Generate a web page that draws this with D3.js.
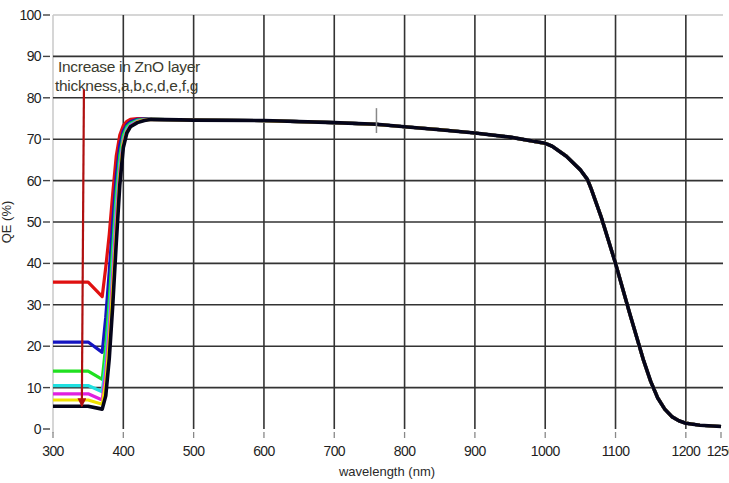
<!DOCTYPE html>
<html>
<head>
<meta charset="utf-8">
<script src="https://cdn.jsdelivr.net/npm/d3@7"></script>
<style>
  body { margin: 0; background: #fff; }
  svg { display: block; }
  .tick-label { font-family: "Liberation Sans Narrow", "Liberation Sans", Arial, sans-serif; font-size: 14px; fill: #1e1e1e; letter-spacing: -0.6px; }
  .axis-title { font-family: "Liberation Sans", Arial, sans-serif; font-size: 13px; fill: #2a2a2a; }
  .note { font-family: "Liberation Sans", Arial, sans-serif; font-size: 15.5px; fill: #3b3b2e; letter-spacing: -0.3px; }
</style>
</head>
<body>
<div id="chart"></div>
<script>
// Chart data
var wavelengths = [300, 350, 370, 375, 380, 385, 390, 395, 400, 405, 410, 420, 430,
    440, 500, 600, 700, 760, 800, 850, 900, 950, 1000, 1010, 1030, 1050, 1060, 1065, 1080,
    1100, 1120, 1140, 1150, 1160, 1170, 1180, 1190, 1200, 1220, 1250];

// common tail from 440 nm onwards
var tailQE = [74.8, 74.6, 74.5, 74.0, 73.6, 73.0, 72.3, 71.5, 70.5, 69.0, 68.3, 65.9, 62.6, 60.3, 58.2, 51.0,
    40.0, 28.0, 16.5, 11.5, 7.5, 4.8, 3.0, 2.0, 1.4, 0.9, 0.6];

var seriesNames = ["a", "b", "c", "d", "e", "f", "g"];
var seriesColors = ["#e01010", "#1414c0", "#20e020", "#20e0e0", "#e020e0", "#f0e000", "#05051a"];

var qeA = [35.5, 35.5, 32.0, 39.0, 47.0, 57.0, 66.0, 71.0, 73.3, 74.3, 74.8, 75.0, 75.0].concat(tailQE);
var qeB = [21.0, 21.0, 18.5, 27.0, 38.0, 50.0, 61.0, 68.5, 72.0, 73.5, 74.2, 74.8, 74.9].concat(tailQE);
var qeC = [14.0, 14.0, 12.0, 20.0, 31.0, 44.0, 57.0, 66.0, 71.0, 73.0, 73.8, 74.6, 74.8].concat(tailQE);
var qeD = [10.5, 10.5, 9.0, 16.0, 27.0, 40.0, 54.0, 64.0, 70.0, 72.5, 73.5, 74.4, 74.7].concat(tailQE);
var qeE = [8.5, 8.5, 7.0, 13.5, 24.0, 37.0, 51.0, 62.5, 69.5, 72.0, 73.3, 74.3, 74.7].concat(tailQE);
var qeF = [7.0, 7.0, 6.0, 11.0, 21.0, 34.0, 48.0, 61.0, 69.0, 71.8, 73.0, 74.2, 74.6].concat(tailQE);
var qeG = [5.5, 5.5, 4.8, 8.0, 17.0, 30.0, 45.0, 59.0, 68.0, 71.5, 73.0, 74.0, 74.5].concat(tailQE);
var allQE = [qeA, qeB, qeC, qeD, qeE, qeF, qeG];

var xTicks = [300, 400, 500, 600, 700, 800, 900, 1000, 1100, 1200, 1250];
var yTicks = [0, 10, 20, 30, 40, 50, 60, 70, 80, 90, 100];

var noteLines = ["Increase in ZnO layer", "thickness,a,b,c,d,e,f,g"];
var arrowFrom = [344, 82];
var arrowTo = [341, 5.5];
var cursorAt = 760;
var cursorRange = [71.5, 77.5];

// SVG setup
var svgWidth = 729;
var svgHeight = 483;
var margin = { top: 15, right: 8, bottom: 54, left: 53 };
var width = 721 - margin.left;
var height = 429 - margin.top;

var svg = d3.select("#chart")
    .append("svg")
    .attr("width", svgWidth)
    .attr("height", svgHeight);

var chartGroup = svg.append("g")
    .attr("transform", `translate(${margin.left}, ${margin.top})`);

var x = d3.scaleLinear().domain([300, 1250]).range([0, width]);
var y = d3.scaleLinear().domain([0, 100]).range([height, 0]);

// left axis line and top border (light gray)
chartGroup.append("line")
    .attr("x1", 0).attr("x2", 0)
    .attr("y1", y(100)).attr("y2", y(0) + 4)
    .attr("stroke", "#c8c8c8").attr("stroke-width", 1.5);
chartGroup.append("line")
    .attr("x1", 0).attr("x2", width + 2)
    .attr("y1", y(100)).attr("y2", y(100))
    .attr("stroke", "#c8c8c8").attr("stroke-width", 1.5);

// grid lines
chartGroup.append("g").selectAll("line")
    .data(yTicks.filter(d => d > 0 && d < 100))
    .enter()
    .append("line")
    .attr("x1", 0).attr("x2", width + 2)
    .attr("y1", d => y(d)).attr("y2", d => y(d))
    .attr("stroke", "#333").attr("stroke-width", 1.6);

chartGroup.append("g").selectAll("line")
    .data(xTicks.filter(d => d > 300 && d < 1250))
    .enter()
    .append("line")
    .attr("x1", d => x(d)).attr("x2", d => x(d))
    .attr("y1", y(100)).attr("y2", y(0))
    .attr("stroke", "#333").attr("stroke-width", 1.6);

// y ticks + labels
var yAxis = chartGroup.append("g");
yAxis.selectAll("line")
    .data(yTicks)
    .enter()
    .append("line")
    .attr("x1", -10).attr("x2", -3)
    .attr("y1", d => y(d)).attr("y2", d => y(d))
    .attr("stroke", "#444").attr("stroke-width", 1.4);
yAxis.selectAll("text")
    .data(yTicks)
    .enter()
    .append("text")
    .attr("class", "tick-label")
    .attr("x", -12)
    .attr("y", d => y(d) + 5)
    .attr("text-anchor", "end")
    .text(d => d);

// x ticks + labels
var xAxis = chartGroup.append("g").attr("transform", `translate(0, ${height})`);
xAxis.selectAll("line")
    .data(xTicks)
    .enter()
    .append("line")
    .attr("x1", d => x(d)).attr("x2", d => x(d))
    .attr("y1", 3).attr("y2", 9)
    .attr("stroke", "#888").attr("stroke-width", 1.3);
xAxis.selectAll("text")
    .data(xTicks)
    .enter()
    .append("text")
    .attr("class", "tick-label")
    .attr("x", d => x(d))
    .attr("y", 27)
    .attr("text-anchor", "middle")
    .text(d => d);

// axis titles
chartGroup.append("text")
    .attr("class", "axis-title")
    .attr("x", width / 2)
    .attr("y", height + 47)
    .attr("text-anchor", "middle")
    .text("wavelength (nm)");

chartGroup.append("text")
    .attr("class", "axis-title")
    .attr("transform", "rotate(-90)")
    .attr("x", -height / 2)
    .attr("y", -42)
    .attr("text-anchor", "middle")
    .text("QE (%)");

// QE curves
var line = d3.line()
    .x((d, i) => x(wavelengths[i]))
    .y(d => y(d))
    .curve(d3.curveLinear);

chartGroup.append("g").selectAll("path")
    .data(allQE)
    .enter()
    .append("path")
    .attr("d", d => line(d))
    .attr("fill", "none")
    .attr("stroke", (d, i) => seriesColors[i])
    .attr("stroke-width", (d, i) => i === 6 ? 3.6 : 3.2)
    .attr("stroke-linejoin", "round");

// cursor mark
chartGroup.append("line")
    .attr("x1", x(cursorAt)).attr("x2", x(cursorAt))
    .attr("y1", y(cursorRange[1])).attr("y2", y(cursorRange[0]))
    .attr("stroke", "#888").attr("stroke-width", 1.5);

// annotation
chartGroup.append("g").selectAll("text")
    .data(noteLines)
    .enter()
    .append("text")
    .attr("class", "note")
    .attr("x", (d, i) => i === 0 ? 5 : 2)
    .attr("y", (d, i) => 57 + i * 19)
    .text(d => d);

svg.append("defs").append("marker")
    .attr("id", "arrowhead")
    .attr("viewBox", "0 0 10 10")
    .attr("refX", 9).attr("refY", 5)
    .attr("markerWidth", 4).attr("markerHeight", 4)
    .attr("orient", "auto")
    .append("path")
    .attr("d", "M0,0 L10,5 L0,10 Z")
    .attr("fill", "#b01010");

chartGroup.append("line")
    .attr("x1", x(arrowFrom[0])).attr("y1", y(arrowFrom[1]))
    .attr("x2", x(arrowTo[0])).attr("y2", y(arrowTo[1]))
    .attr("stroke", "#b01010").attr("stroke-width", 2.2)
    .attr("marker-end", "url(#arrowhead)");
</script>
</body>
</html>
